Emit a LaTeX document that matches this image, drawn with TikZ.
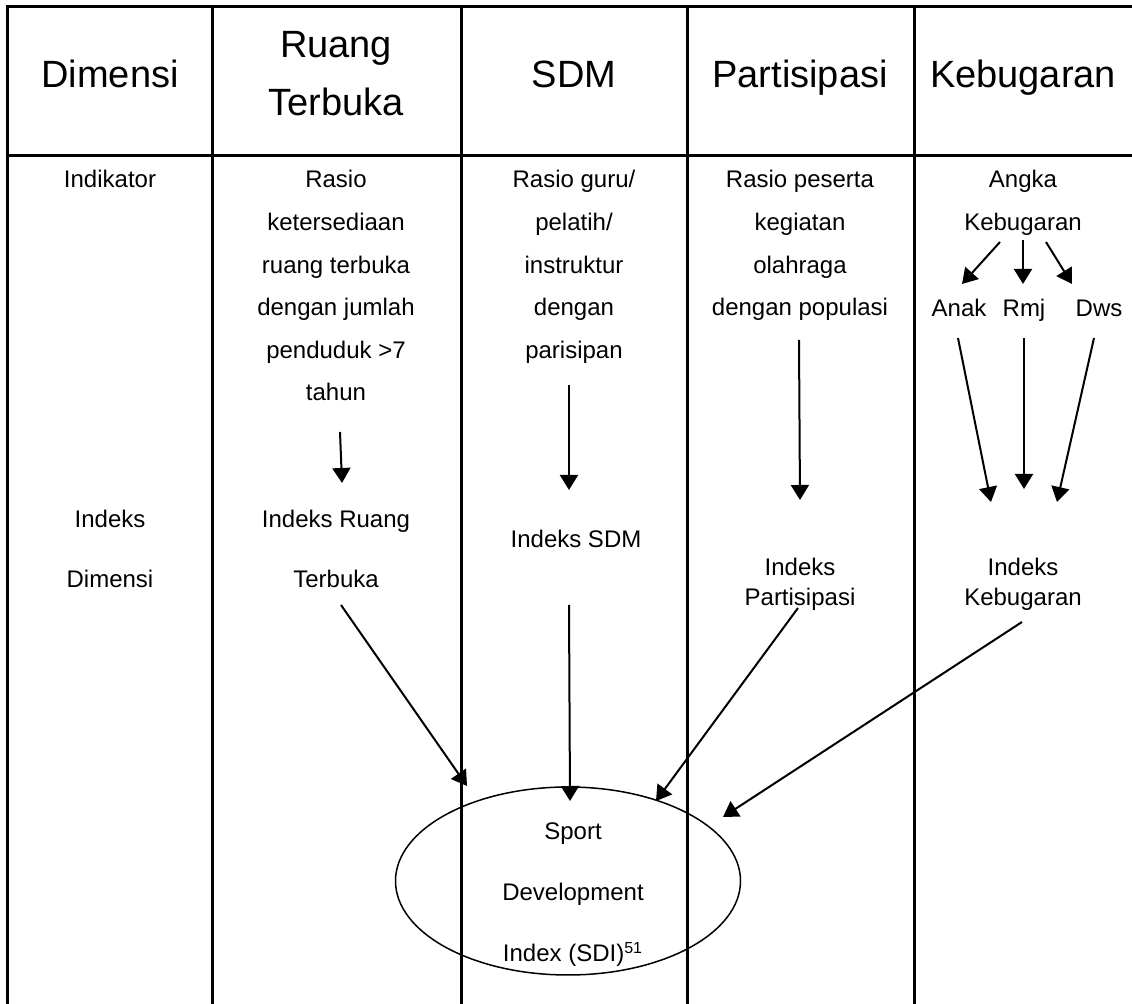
\documentclass[tikz,border=0pt]{standalone}
\usepackage{fontspec}
\setmainfont{Liberation Sans}
\usetikzlibrary{arrows.meta,shapes.geometric}
\begin{document}
\begin{tikzpicture}[x=0.5pt,y=-0.5pt,
  tbl/.style={line width=1.5pt},
  head/.style={font=\fontsize{19}{29}\selectfont, anchor=base, inner sep=0pt},
  body/.style={font=\fontsize{12}{15}\selectfont, anchor=base, inner sep=0pt},
  arr/.style={line width=1pt, -{Triangle[length=7.5pt,width=9pt]}}]
\useasboundingbox (0,0) rectangle (1132,1004);
% table
\draw[tbl] (1132,7) -- (7,7) -- (7,1004);
\draw[tbl] (7,156) -- (1132,156);
\foreach \x in {212,461,687,914} \draw[tbl] (\x,7) -- (\x,1004);
% headers (baselines)
\node[head] (hDim) at (110,88) {Dimensi};
\node[head] (hRT1) at (336,58) {Ruang};
\node[head] (hRT2) at (336,116) {Terbuka};
\node[head] (hSDM) at (574,88) {SDM};
\node[head] (hPar) at (800,88) {Partisipasi};
\node[head] (hKeb) at (1023,88) {Kebugaran};
% indicators
\node[body] (ind) at (110,188) {Indikator};
\foreach \t [count=\i] in {Rasio,ketersediaan,ruang terbuka,dengan jumlah,penduduk >7,tahun}
  \node[body] (iRT\i) at (336,{188+42.6*(\i-1)}) {\t};
\foreach \t [count=\i] in {Rasio guru/,pelatih/,instruktur,dengan,parisipan}
  \node[body] (iSDM\i) at (574,{188+42.6*(\i-1)}) {\t};
\foreach \t [count=\i] in {Rasio peserta,kegiatan,olahraga,dengan populasi}
  \node[body] (iPar\i) at (800,{188+42.6*(\i-1)}) {\t};
\node[body] (iKeb1) at (1023,188) {Angka};
\node[body] (iKeb2) at (1023,231) {Kebugaran};
\node[body] (anak) at (959,317) {Anak};
\node[body] (rmj) at (1024,317) {Rmj};
\node[body] (dws) at (1099,317) {Dws};
% indices
\node[body] (xDim1) at (110,528) {Indeks};
\node[body] (xDim2) at (110,588) {Dimensi};
\node[body] (xRT1) at (336,528) {Indeks Ruang};
\node[body] (xRT2) at (336,588) {Terbuka};
\node[body] (xSDM) at (576,548) {Indeks SDM};
\node[body] (xPar1) at (800,576) {Indeks};
\node[body] (xPar2) at (800,606) {Partisipasi};
\node[body] (xKeb1) at (1023,576) {Indeks};
\node[body] (xKeb2) at (1023,606) {Kebugaran};
% SDI
\node[draw, ellipse, line width=0.75pt, minimum width=172.5pt, minimum height=94pt, inner sep=0pt] (sdi) at (568,881) {};
\node[body] (sdi1) at (573,840) {Sport};
\node[body] (sdi2) at (573,901) {Development};
\node[body] (sdi3) at (573,962) {Index (SDI)\textsuperscript{51}};
% arrow coordinates
\coordinate (a1s) at (340,432); \coordinate (a1e) at (342,483);
\coordinate (a2s) at (569,385); \coordinate (a2e) at (569,490);
\coordinate (a3s) at (799,340); \coordinate (a3e) at (800,500);
\coordinate (k1s) at (1000,242); \coordinate (k1e) at (962,284);
\coordinate (k2s) at (1023,240); \coordinate (k2e) at (1023,284);
\coordinate (k3s) at (1046,242); \coordinate (k3e) at (1072,284);
\coordinate (l1s) at (958,338); \coordinate (l1e) at (991,502);
\coordinate (l2s) at (1024,338); \coordinate (l2e) at (1024,489);
\coordinate (l3s) at (1094,338); \coordinate (l3e) at (1057,502);
\coordinate (b1s) at (341,605); \coordinate (b1e) at (467,786);
\coordinate (b2s) at (569,605); \coordinate (b2e) at (570,801);
\coordinate (b3s) at (798,608); \coordinate (b3e) at (656,801);
\coordinate (b4s) at (1022,622); \coordinate (b4e) at (723,817);
\foreach \a in {a1,a2,a3,k1,k2,k3,l1,l2,l3,b1,b2,b3,b4}
  \draw[arr] (\a s) -- (\a e);
\end{tikzpicture}
\end{document}
